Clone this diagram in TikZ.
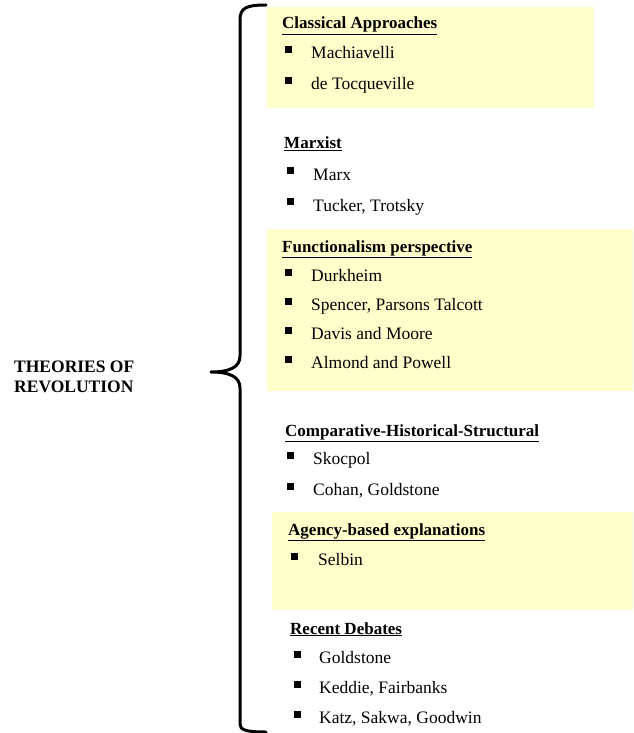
\documentclass[tikz,border=0pt]{standalone}
\usepackage{fontspec}
\setmainfont{Liberation Serif}
\definecolor{boxyellow}{HTML}{FFFFCC}
\begin{document}
\begin{tikzpicture}[x=1pt,y=-1pt,
  every node/.style={font=\fontsize{17.5}{20}\selectfont},
  hdr/.style={anchor=base west, inner sep=0pt, font=\fontsize{17}{20}\selectfont\bfseries},
  ttl/.style={anchor=base west, inner sep=0pt, font=\fontsize{17.5}{20}\selectfont\bfseries},
  itm/.style={anchor=base west, inner sep=0pt},
  bul/.style={rectangle, fill=black, minimum size=7pt, inner sep=0pt},
  box/.style={fill=boxyellow, draw=none},
  brace/.style={line width=3pt, line join=round, line cap=round}]
\useasboundingbox (0,0) rectangle (633,733);
% yellow boxes
\fill[box] (267,7) rectangle (594,108);
\fill[box] (267,229) rectangle (633,391);
\fill[box] (272,512) rectangle (633,610);
% brace
\draw[brace] (266,5) .. controls (246,5) and (240,8) .. (240,20)
  -- (240,356) .. controls (240,367) and (230,372) .. (211,372)
  .. controls (230,372) and (240,377) .. (240,388)
  -- (240,724) .. controls (240,730) and (246,732) .. (266,732);
% title
\node[ttl] (t1) at (14,372) {THEORIES OF};
\node[ttl] (t2) at (14,392) {REVOLUTION};
% classical
\node[hdr] (h1) at (282,29) {\underline{Classical Approaches}};
\node[bul] (b11) at (288.5,50) {};
\node[itm] (i11) at (311,59) {Machiavelli};
\node[bul] (b12) at (288.5,81) {};
\node[itm] (i12) at (311,90) {de Tocqueville};
% marxist
\node[hdr] (h2) at (284,149) {\underline{Marxist}};
\node[bul] (b21) at (290,170) {};
\node[itm] (i21) at (313,180) {Marx};
\node[bul] (b22) at (290,201) {};
\node[itm] (i22) at (313,211) {Tucker, Trotsky};
% functionalism
\node[hdr] (h3) at (282,252) {\underline{Functionalism perspective}};
\node[bul] (b31) at (288.5,272) {};
\node[itm] (i31) at (311,281) {Durkheim};
\node[bul] (b32) at (288.5,301) {};
\node[itm] (i32) at (311,310) {Spencer, Parsons Talcott};
\node[bul] (b33) at (288.5,330) {};
\node[itm] (i33) at (311,339) {Davis and Moore};
\node[bul] (b34) at (288.5,359) {};
\node[itm] (i34) at (311,368) {Almond and Powell};
% comparative
\node[hdr] (h4) at (285,436) {\underline{Comparative-Historical-Structural}};
\node[bul] (b41) at (290,455) {};
\node[itm] (i41) at (313,464) {Skocpol};
\node[bul] (b42) at (290,486) {};
\node[itm] (i42) at (313,495) {Cohan, Goldstone};
% agency
\node[hdr] (h5) at (288,535) {\underline{Agency-based explanations}};
\node[bul] (b51) at (294,556) {};
\node[itm] (i51) at (318,565) {Selbin};
% recent
\node[hdr] (h6) at (290,634) {\underline{Recent Debates}};
\node[bul] (b61) at (297,654) {};
\node[itm] (i61) at (319,663) {Goldstone};
\node[bul] (b62) at (297,684) {};
\node[itm] (i62) at (319,693) {Keddie, Fairbanks};
\node[bul] (b63) at (297,714) {};
\node[itm] (i63) at (319,723) {Katz, Sakwa, Goodwin};
\end{tikzpicture}
\end{document}
